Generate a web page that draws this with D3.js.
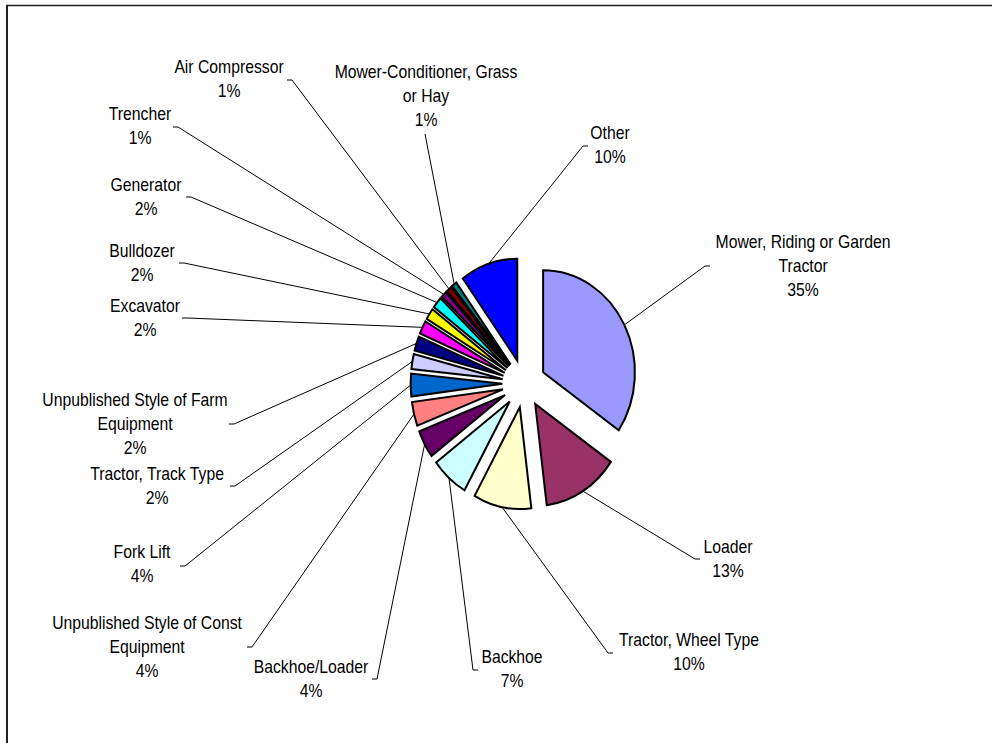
<!DOCTYPE html>
<html>
<head>
<meta charset="utf-8">
<script src="https://cdn.jsdelivr.net/npm/d3@7"></script>
<style>
  body { margin: 0; background: #fff; }
  svg { display: block; }
  text { font-family: "Liberation Sans", Arial, sans-serif; font-size: 17.5px; fill: #000; }
</style>
</head>
<body>
<div id="chart"></div>
<script>
// data
var categories = [
	"Mower, Riding or Garden Tractor", "Loader", "Tractor, Wheel Type", "Backhoe",
	"Backhoe/Loader", "Unpublished Style of Const Equipment", "Fork Lift",
	"Tractor, Track Type", "Unpublished Style of Farm Equipment", "Excavator",
	"Bulldozer", "Generator", "Trencher", "Air Compressor",
	"Mower-Conditioner, Grass or Hay", "Other"
];
var values = [34.6, 13.4, 10.2, 6.6, 4.4, 3.8, 3.6, 2.4, 2.3, 2.1, 1.8, 1.8, 1.0, 1.0, 0.9, 10.1];
var colors = [
	"#9999FF", "#993366", "#FFFFCC", "#CCFFFF", "#660066", "#FF8080", "#0066CC", "#CCCCFF",
	"#000080", "#FF00FF", "#FFFF00", "#00FFFF", "#800080", "#800000", "#008080", "#0000FF"
];

// layout of the data labels (centre of first line) and leader anchors
var labelCenter = [
	[803, 242], [728, 547], [689, 640], [512, 657], [311, 667], [147, 623], [142, 552],
	[157, 474], [135, 400], [145, 306], [142, 251], [146, 185], [140, 114], [229, 67],
	[426, 72], [610, 133]
];
var leaderAnchor = [
	[710, 266], [700, 559], [613, 653], [478, 670], [372, 679], [247, 647], [180, 566],
	[230, 486], [229, 424], [182, 318], [179, 263], [186, 197], [173, 127], [287, 80],
	[425, 134], [588, 146]
];
var breakBefore = { 0: "Tractor", 5: "Equipment", 8: "Equipment", 14: "or Hay" };

(function(){
	var width = 992, height = 743;
	var cx = 524, cy = 383.5, sx = 0.9;
	var radius = 102, explode = 24, lineGap = 24;

	var svg = d3.select("#chart")
		.append("svg")
		.attr("width", width)
		.attr("height", height);

	// chart area frame (only left and top edges are in view)
	svg.append("line").attr("x1", 7).attr("y1", 5).attr("x2", 7).attr("y2", height)
		.attr("stroke", "#222").attr("stroke-width", 2);
	svg.append("line").attr("x1", 6).attr("y1", 5.5).attr("x2", width).attr("y2", 5.5)
		.attr("stroke", "#222").attr("stroke-width", 1.3);

	var pie = d3.pie().sort(null).value(function(d){ return d; });
	var arcs = pie(values);
	var arc = d3.arc().innerRadius(0).outerRadius(radius);

	function mid(d){ return (d.startAngle + d.endAngle) / 2; }

	// leader lines
	svg.append("g").selectAll("polyline")
		.data(arcs)
		.enter().append("polyline")
		.attr("points", function(d, i){
			var a = mid(d);
			var px = cx + sx * (radius + explode) * Math.sin(a);
			var py = cy - (radius + explode) * Math.cos(a);
			var ax = leaderAnchor[i][0], ay = leaderAnchor[i][1];
			var tick = i === 14 ? 0 : 5;
			var tx = ax + (px < ax ? -tick : tick);
			return [[px, py], [tx, ay], [ax, ay]].join(" ");
		})
		.attr("fill", "none")
		.attr("stroke", "#000")
		.attr("stroke-width", 1);

	// exploded slices
	var g = svg.append("g")
		.attr("transform", "translate(" + cx + "," + cy + ") scale(" + sx + ",1)");

	g.selectAll("path")
		.data(arcs)
		.enter().append("path")
		.attr("transform", function(d){
			var a = mid(d);
			return "translate(" + (explode * Math.sin(a)) + "," + (-explode * Math.cos(a)) + ")";
		})
		.attr("d", arc)
		.attr("fill", function(d, i){ return colors[i]; })
		.attr("stroke", "#000")
		.attr("stroke-width", 2)
		.attr("vector-effect", "non-scaling-stroke");

	// data labels
	var labels = svg.append("g").selectAll("text")
		.data(arcs)
		.enter().append("text")
		.attr("text-anchor", "middle")
		.attr("transform", function(d, i){
			return "translate(" + labelCenter[i][0] + "," + (labelCenter[i][1] + 6.3) + ") scale(" + sx + ",1)";
		});

	labels.each(function(d, i){
		var name = categories[i];
		var lines = [name];
		var b = breakBefore[i];
		if (b) {
			var k = name.lastIndexOf(b);
			lines = [name.slice(0, k).trim(), name.slice(k)];
		}
		lines.push(Math.round(d.value) + "%");
		var t = d3.select(this);
		lines.forEach(function(s, k){
			t.append("tspan").attr("x", 0).attr("y", k * lineGap).text(s);
		});
	});
})();
</script>
</body>
</html>
